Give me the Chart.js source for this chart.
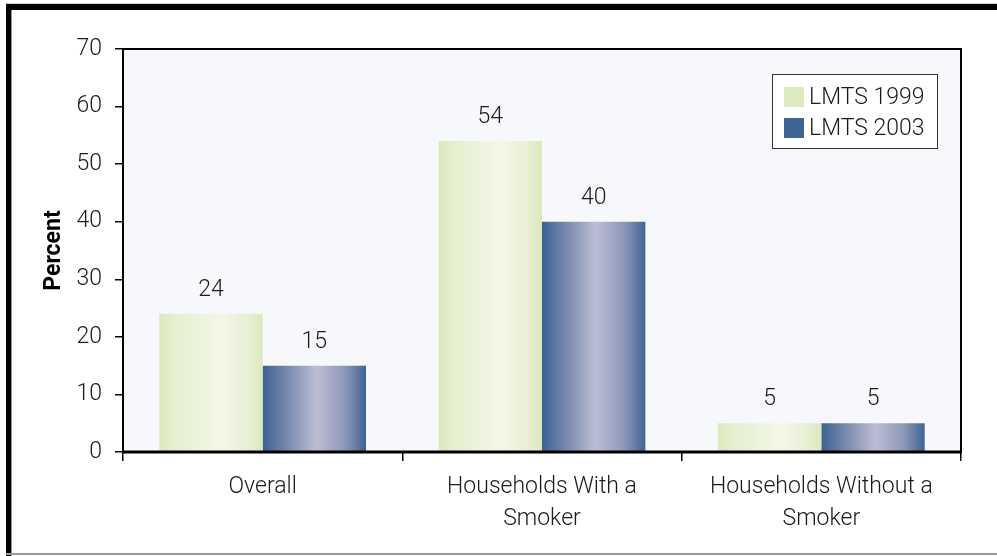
<!DOCTYPE html>
<html>
<head>
<meta charset="utf-8">
<script src="https://cdn.jsdelivr.net/npm/chart.js@4.4.0/dist/chart.umd.min.js"></script>
<style>
  html, body { margin: 0; padding: 0; background: #ffffff; }
  #wrap { width: 997px; height: 556px; }
</style>
</head>
<body>
<div id="wrap"><canvas id="c" width="997" height="556"></canvas></div>
<script>
const categories = [["Overall"], ["Households With a", "Smoker"], ["Households Without a", "Smoker"]];
const seriesNames = ["LMTS 1999", "LMTS 2003"];
const lmts1999 = [24, 54, 5];
const lmts2003 = [15, 40, 5];
const yTicks = [0, 10, 20, 30, 40, 50, 60, 70];

const FONT = "Roboto";
const FSIZE = 23;
const FWEIGHT = 300;
const CAT_PCT = 0.74;
const swatchColors = ["#dde9bf", "#3d6496"];
const gradStops = [
  [[0, "#dce8bc"], [0.15, "#e6efd0"], [0.6, "#f3f7e8"], [0.85, "#e9f0d4"], [1, "#dce8bb"]],
  [[0, "#3c6292"], [0.25, "#7c8bb0"], [0.52, "#bdbed4"], [0.8, "#8c97b8"], [1, "#3f6494"]]
];

function barFill(dsIndex) {
  return function (ctx) {
    const chart = ctx.chart;
    const xs = chart.scales && chart.scales.x;
    if (!xs || !chart.chartArea || ctx.dataIndex === undefined) return swatchColors[dsIndex];
    const center = xs.getPixelForValue(ctx.dataIndex);
    const catW = xs.width / categories.length;
    const bw = catW * CAT_PCT / 2;
    const left = dsIndex === 0 ? center - bw : center;
    const g = chart.ctx.createLinearGradient(left, 0, left + bw, 0);
    gradStops[dsIndex].forEach(s => g.addColorStop(s[0], s[1]));
    return g;
  };
}

const framePlugin = {
  id: 'frame',
  beforeDraw(chart) {
    const c = chart.ctx, a = chart.chartArea;
    c.save();
    c.fillStyle = '#ffffff';
    c.fillRect(0, 0, chart.width, chart.height);
    // outer frame
    c.fillStyle = '#cfcfcf';
    c.fillRect(6, 3, chart.width - 6, 1);
    c.fillStyle = '#000000';
    c.fillRect(6, 4, chart.width - 6, 6);
    c.fillRect(6, 4, 5, chart.height - 4);
    c.fillStyle = '#9a9a9a';
    c.fillRect(11, 10, 1, chart.height - 10);
    c.fillRect(6, chart.height - 3, chart.width - 6, 2);
    // plot background
    c.fillStyle = '#f7f8fb';
    c.fillRect(a.left, a.top, a.right - a.left, a.bottom - a.top);
    c.restore();
  },
  afterDatasetsDraw(chart) {
    const c = chart.ctx, a = chart.chartArea;
    c.save();
    // plot border
    c.strokeStyle = '#000000';
    c.lineWidth = 2;
    c.beginPath();
    c.moveTo(a.left, a.bottom);
    c.lineTo(a.left, a.top);
    c.lineTo(a.right, a.top);
    c.lineTo(a.right, a.bottom);
    c.stroke();
    c.lineWidth = 3;
    c.beginPath();
    c.moveTo(a.left - 1, a.bottom);
    c.lineTo(a.right + 1, a.bottom);
    c.stroke();
    // value labels
    c.fillStyle = '#1a1a1a';
    c.font = FWEIGHT + ' ' + FSIZE + 'px ' + FONT;
    c.textAlign = 'center';
    c.textBaseline = 'alphabetic';
    chart.data.datasets.forEach((ds, di) => {
      const meta = chart.getDatasetMeta(di);
      meta.data.forEach((el, i) => {
        c.fillText(String(ds.data[i]), el.x, el.y - 18);
      });
    });
    // legend
    const lx = 772, ly = 74, lw = 165, lh = 74;
    c.fillStyle = '#ffffff';
    c.fillRect(lx, ly, lw, lh);
    c.strokeStyle = '#333333';
    c.lineWidth = 1;
    c.strokeRect(lx + 0.5, ly + 0.5, lw, lh);
    c.textAlign = 'left';
    c.textBaseline = 'middle';
    chart.data.datasets.forEach((ds, di) => {
      const yy = ly + 13 + di * 31;
      c.fillStyle = swatchColors[di];
      c.fillRect(lx + 12, yy, 20, 20);
      c.fillStyle = '#1a1a1a';
      c.fillText(ds.label, lx + 37, yy + 11);
    });
    c.restore();
  }
};

new Chart(document.getElementById('c'), {
  type: 'bar',
  data: {
    labels: categories,
    datasets: [
      { label: seriesNames[0], data: lmts1999, backgroundColor: barFill(0), borderWidth: 0 },
      { label: seriesNames[1], data: lmts2003, backgroundColor: barFill(1), borderWidth: 0 }
    ]
  },
  options: {
    responsive: false,
    animation: false,
    devicePixelRatio: 1,
    layout: { padding: { left: 40, right: 36, top: 49, bottom: 0 } },
    datasets: { bar: { categoryPercentage: CAT_PCT, barPercentage: 1.0 } },
    plugins: { legend: { display: false }, tooltip: { enabled: false } },
    scales: {
      x: {
        grid: { offset: true, drawOnChartArea: false, drawTicks: true, tickLength: 9, color: '#000000', lineWidth: 1.5 },
        border: { display: false },
        ticks: { color: '#1a1a1a', font: { family: FONT, size: FSIZE, weight: FWEIGHT, lineHeight: 32 / FSIZE }, padding: 10, maxRotation: 0, autoSkip: false },
        afterFit(s) { s.height = 104; }
      },
      y: {
        min: 0, max: 70,
        afterBuildTicks(s) { s.ticks = yTicks.map(v => ({ value: v })); },
        grid: { drawOnChartArea: false, drawTicks: true, tickLength: 8, color: '#000000', lineWidth: 1.5 },
        border: { display: false },
        ticks: { color: '#1a1a1a', font: { family: FONT, size: FSIZE, weight: FWEIGHT }, padding: 13 },
        title: { display: true, text: 'Percent', color: '#000000', font: { family: FONT, size: 23, weight: 'bold' }, padding: { top: 0, bottom: 0 } },
        afterFit(s) { s.width = 83; }
      }
    }
  },
  plugins: [framePlugin]
});
</script>
</body>
</html>
